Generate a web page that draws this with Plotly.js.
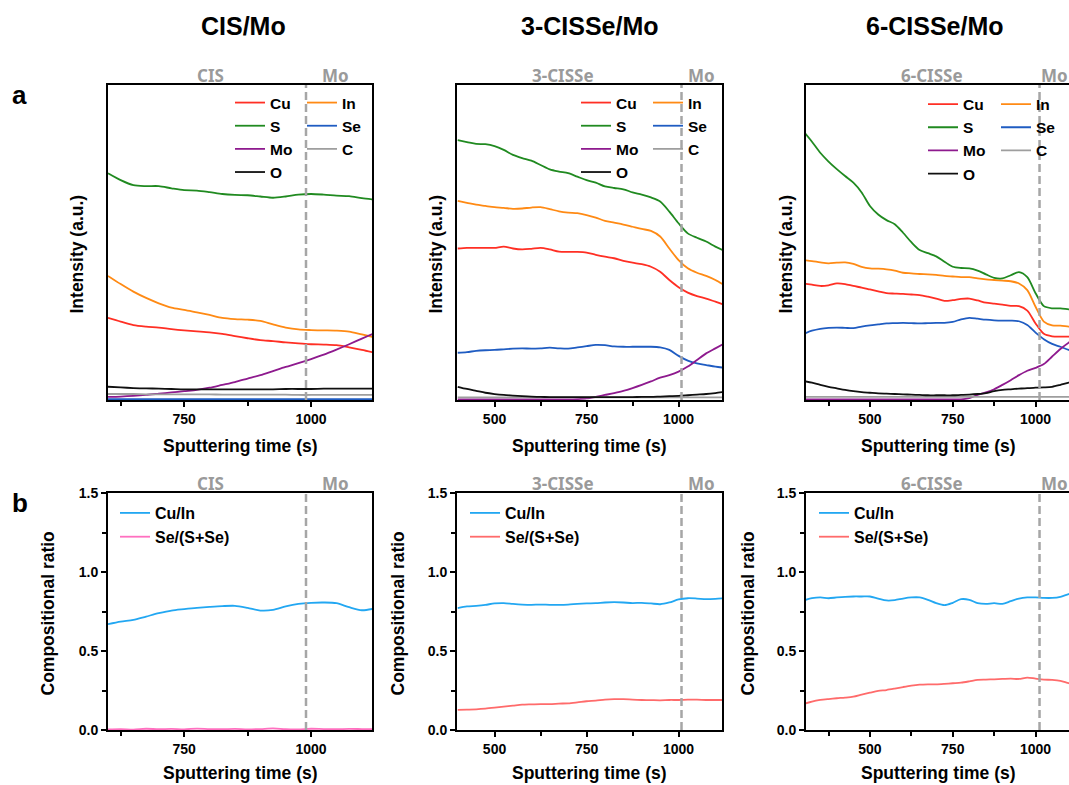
<!DOCTYPE html>
<html><head><meta charset="utf-8">
<script src="https://cdn.plot.ly/plotly-3.0.1.min.js"></script>
<style>html,body{margin:0;padding:0;overflow:hidden;background:#fff;} #chart{width:1075px;height:785px;}</style>
</head><body><div id="chart"></div>
<script>
// ---------------- data ----------------
const columnTitles = ['CIS/Mo', '3-CISSe/Mo', '6-CISSe/Mo'];
const absorberLabels = ['CIS', '3-CISSe', '6-CISSe'];
const substrateLabel = 'Mo';
const elements = ['Cu', 'In', 'S', 'Se', 'Mo', 'C', 'O'];
const ratioNames = ['Cu/In', 'Se/(S+Se)'];
const interfaceTimes = [990, 1008, 1012];

// CIS/Mo depth profile (intensity, a.u.)
const tA = [600,625,650,675,700,725,750,775,800,825,850,875,900,925,950,975,1000,1025,1050,1075,1100,1125];
const cuA = [26.1,24.9,23.8,23.3,23.0,22.5,22.1,21.8,21.5,21.0,20.3,19.6,19.0,18.7,18.3,18.0,17.7,17.6,17.4,16.7,15.9,15.0];
const inA = [39.4,36.8,34.4,32.4,30.7,29.3,28.6,27.8,27.0,26.1,25.7,25.5,25.1,24.0,23.0,22.4,22.2,22.1,22.0,21.7,20.8,19.9];
const sA  = [72.0,69.8,68.2,67.9,67.9,67.2,66.6,66.5,66.0,65.4,65.1,65.0,64.6,64.2,64.6,65.2,65.4,65.2,64.9,64.7,64.1,63.6];
const seA = [0.3,0.3,0.3,0.3,0.3,0.3,0.3,0.3,0.3,0.3,0.3,0.3,0.3,0.3,0.3,0.3,0.3,0.3,0.3,0.3,0.3,0.3];
const moA = [1.0,1.1,1.3,1.6,2.0,2.4,2.8,3.2,3.9,4.8,5.7,6.8,7.9,9.2,10.5,11.7,13.0,14.4,16.0,17.7,19.5,21.2];
const cA  = [1.9,1.9,1.9,1.8,1.8,1.8,1.8,1.8,1.8,1.7,1.7,1.7,1.7,1.7,1.7,1.6,1.6,1.6,1.6,1.6,1.6,1.6];
const oA  = [4.2,4.0,3.8,3.7,3.6,3.5,3.4,3.4,3.4,3.4,3.4,3.4,3.4,3.4,3.5,3.5,3.5,3.6,3.6,3.6,3.6,3.6];

// 3-CISSe/Mo depth profile
const tB = [400,425,450,475,500,525,550,575,600,625,650,675,700,725,750,775,800,825,850,875,900,925,950,975,1000,1025,1050,1075,1100,1125];
const cuB = [48.1,48.3,48.3,48.3,48.3,48.7,48.1,47.8,48.0,48.3,47.8,47.1,47.0,47.0,46.8,46.1,45.5,45.0,44.2,43.6,43.1,42.3,40.7,38.1,35.8,34.1,33.0,32.2,31.2,30.2];
const inB = [63.2,62.6,62.0,61.6,61.2,61.0,60.7,60.8,61.1,61.2,60.6,59.9,59.5,59.3,58.7,57.9,56.9,56.3,55.7,55.0,54.3,53.7,51.9,48.1,44.4,41.8,40.4,39.4,38.1,36.4];
const sB  = [82.5,81.9,81.3,81.2,80.6,79.4,77.8,76.8,76.0,74.6,73.2,72.5,72.0,70.9,69.8,69.0,67.8,67.3,66.9,65.9,65.2,64.3,63.0,59.8,56.1,52.9,51.5,50.3,48.7,47.3];
const seB = [15.0,15.2,15.6,15.8,15.9,16.1,16.3,16.4,16.3,16.4,16.6,16.4,16.3,16.7,17.1,17.5,17.4,17.0,16.9,16.9,16.9,16.9,16.7,15.9,14.0,12.5,11.6,11.1,10.6,10.2];
const moB = [0.2,0.2,0.2,0.2,0.2,0.2,0.2,0.2,0.2,0.2,0.2,0.2,0.2,0.3,0.5,1.0,1.6,2.2,2.9,3.8,4.8,5.9,7.1,7.9,9.0,10.6,12.7,14.8,16.4,18.0];
const cB  = [0.85,0.85,0.85,0.85,0.85,0.85,0.85,0.85,0.85,0.85,0.85,0.85,0.85,0.85,0.85,0.85,0.85,0.85,0.85,0.85,0.85,0.85,0.85,0.85,0.85,0.85,0.85,0.85,0.85,0.85];
const oB  = [4.2,3.5,2.9,2.3,1.9,1.6,1.4,1.2,1.05,1.0,0.9,0.9,0.9,0.9,0.9,0.9,0.9,0.9,0.9,0.9,1.0,1.0,1.1,1.2,1.3,1.5,1.7,1.9,2.2,2.6];

// 6-CISSe/Mo depth profile
const tC = [300,325,350,375,400,425,450,475,500,525,550,575,600,625,650,675,700,725,750,775,800,825,850,875,900,925,950,975,1000,1025,1050,1075,1100,1125];
const cuC = [37.0,36.6,36.2,36.4,37.0,36.8,36.2,35.7,35.1,34.5,33.9,33.8,33.7,33.5,33.3,32.8,32.2,31.5,31.7,32.1,32.2,31.6,30.9,30.6,30.3,29.9,29.8,28.4,24.3,21.0,20.2,20.1,20.1,20.0];
const inC = [44.4,44.1,43.7,43.4,43.6,43.7,43.2,42.3,41.8,41.7,41.5,41.1,40.4,40.2,40.0,39.9,39.7,39.4,39.2,39.0,39.0,38.6,38.3,38.1,37.9,37.7,37.0,34.9,29.6,24.9,23.7,23.6,23.3,23.1];
const sC  = [85.2,82.0,78.5,75.7,73.3,71.1,69.0,65.9,61.6,58.9,57.1,55.8,53.1,50.1,47.6,46.6,45.6,43.9,42.3,41.9,41.8,41.1,39.9,38.8,38.6,39.6,40.6,39.0,33.9,29.8,29.1,29.1,28.8,28.6];
const seC = [21.0,22.0,22.6,22.9,23.0,22.9,22.8,23.3,23.7,24.0,24.3,24.4,24.5,24.4,24.3,24.4,24.5,24.5,24.8,25.6,26.1,25.8,25.5,25.3,25.2,25.2,25.0,23.8,21.4,19.3,17.8,16.9,15.9,15.2];
const moC = [0.2,0.2,0.2,0.2,0.2,0.2,0.2,0.2,0.2,0.2,0.2,0.2,0.2,0.2,0.2,0.2,0.2,0.2,0.2,0.2,0.6,1.6,2.4,3.4,4.8,6.3,7.9,9.3,10.2,11.4,13.8,16.2,18.2,19.9];
const cC  = [1.0,1.0,1.0,1.0,1.0,1.0,1.0,1.0,1.0,1.0,1.0,1.0,1.0,1.0,1.0,1.0,1.0,1.0,1.0,1.0,1.0,1.0,1.0,1.0,1.0,1.0,1.0,1.0,1.0,1.0,1.0,1.0,1.0,1.0];
const oC  = [6.0,5.5,4.8,4.2,3.7,3.2,2.8,2.5,2.3,2.1,2.0,1.9,1.8,1.7,1.6,1.5,1.5,1.5,1.5,1.6,1.7,1.9,2.2,2.8,3.2,3.4,3.6,3.8,3.9,4.0,4.2,4.8,5.5,6.0];

// compositional ratios
const cuInA = [0.670,0.686,0.697,0.718,0.739,0.756,0.765,0.773,0.779,0.784,0.786,0.773,0.756,0.760,0.782,0.798,0.805,0.807,0.803,0.777,0.758,0.769];
const seRatioA = [0.004,0.006,0.003,0.008,0.005,0.007,0.004,0.009,0.006,0.005,0.007,0.004,0.006,0.010,0.005,0.004,0.008,0.006,0.005,0.007,0.006,0.005];
const cuInB = [0.771,0.782,0.786,0.792,0.801,0.803,0.798,0.794,0.792,0.794,0.792,0.792,0.794,0.798,0.801,0.803,0.807,0.809,0.807,0.803,0.805,0.801,0.796,0.807,0.826,0.834,0.832,0.828,0.830,0.834];
const seRatioB = [0.127,0.129,0.131,0.135,0.141,0.148,0.154,0.160,0.162,0.164,0.164,0.167,0.169,0.175,0.182,0.186,0.192,0.195,0.195,0.192,0.190,0.189,0.188,0.190,0.190,0.192,0.192,0.190,0.190,0.190];
const cuInC = [0.820,0.834,0.839,0.834,0.839,0.843,0.845,0.845,0.845,0.832,0.820,0.822,0.832,0.839,0.839,0.824,0.803,0.790,0.805,0.828,0.824,0.803,0.798,0.803,0.798,0.815,0.832,0.839,0.839,0.836,0.836,0.843,0.860,0.870];
const seRatioC = [0.165,0.180,0.190,0.196,0.201,0.205,0.211,0.224,0.236,0.247,0.253,0.262,0.272,0.281,0.287,0.289,0.289,0.292,0.296,0.300,0.308,0.317,0.319,0.321,0.323,0.325,0.323,0.332,0.325,0.319,0.317,0.311,0.296,0.285];

// ---------------- layout helpers ----------------
const W = 1075, H = 785;
const px = v => v / W;
const py = v => 1 - v / H;
const FONT = 'Liberation Sans, Arial, Helvetica, sans-serif';
const LABEL_FONT = 'Noto Sans, Open Sans, sans-serif';

const elementColors = ['#FF2F24', '#FF8A14', '#208A20', '#1F5CC2', '#8E1A8E', '#9E9E9E', '#101010'];
const ratioColors = [['#22A7F2', '#FF70C0'], ['#22A7F2', '#FF6B6B'], ['#22A7F2', '#FF6B6B']];

const panels = [
  {t: tA, series: [cuA, inA, sA, seA, moA, cA, oA], ratios: [cuInA, seRatioA], range: [600, 1120], xd: [108, 372], leg: [230, 302], legY: 86, rLeg: 115, lab: [801, 1048]},
  {t: tB, series: [cuB, inB, sB, seB, moB, cB, oB], ratios: [cuInB, seRatioB], range: [398, 1118], xd: [457, 722], leg: [576, 648], legY: 86, rLeg: 465, lab: [685, 1063]},
  {t: tC, series: [cuC, inC, sC, seC, moC, cC, oC], ratios: [cuInC, seRatioC], range: [307, 1107], xd: [806, 1071], leg: [923, 996], legY: 87.5, rLeg: 814, lab: [686, 1058]}
];

const topDom = [py(400), py(85)];
const botDom = [py(730), py(493)];

const tickFont = {family: FONT, size: 14, weight: 'bold', color: '#000'};
const legFont = {family: FONT, size: 15, weight: 'bold', color: '#000'};

function xAxis(dom, range, anchor) {
  return {
    domain: [px(dom[0]), px(dom[1])], range: range, anchor: anchor,
    showline: true, linewidth: 2, linecolor: '#000', mirror: true,
    showgrid: false, zeroline: false,
    ticks: 'outside', ticklen: 5, tickwidth: 2, tickcolor: '#000',
    tick0: 0, dtick: 250, tickfont: tickFont,
    minor: {dtick: 125, tick0: 0, ticks: 'outside', ticklen: 4, tickwidth: 2, tickcolor: '#000', showgrid: false},
    fixedrange: true
  };
}
function yAxisTop(anchor) {
  return {
    domain: topDom, range: [0, 100], anchor: anchor,
    showline: true, linewidth: 2, linecolor: '#000', mirror: true,
    showgrid: false, zeroline: false, ticks: '', showticklabels: false, fixedrange: true
  };
}
function yAxisBot(anchor) {
  return {
    domain: botDom, range: [0, 1.5], anchor: anchor,
    showline: true, linewidth: 2, linecolor: '#000', mirror: true,
    showgrid: false, zeroline: false,
    ticks: 'outside', ticklen: 5, tickwidth: 2, tickcolor: '#000',
    tick0: 0, dtick: 0.5, tickformat: '.1f', tickfont: tickFont,
    minor: {dtick: 0.25, tick0: 0, ticks: 'outside', ticklen: 4, tickwidth: 2, tickcolor: '#000', showgrid: false},
    fixedrange: true
  };
}

const traces = [];
const layout = {
  width: W, height: H,
  margin: {l: 0, r: 0, t: 0, b: 0, pad: 0},
  paper_bgcolor: '#fff', plot_bgcolor: '#fff',
  font: {family: FONT, color: '#000'},
  showlegend: true,
  shapes: [], annotations: []
};

function legendKey(n) { return n === 1 ? 'legend' : 'legend' + n; }
function legendLayout(x, y, size) {
  return {x: px(x), y: py(y), xanchor: 'left', yanchor: 'top', bgcolor: 'rgba(0,0,0,0)', borderwidth: 0,
          font: Object.assign({}, legFont, {size: size}), tracegroupgap: 0, itemclick: false, itemdoubleclick: false};
}

function ann(text, x, y, size, opts) {
  return Object.assign({text: text, x: px(x), y: py(y), xref: 'paper', yref: 'paper', showarrow: false,
    xanchor: 'center', yanchor: 'middle', font: {family: FONT, size: size, weight: 'bold', color: '#000'}}, opts || {});
}

panels.forEach((p, i) => {
  const topN = i + 1, botN = i + 4;
  const xt = 'x' + (topN === 1 ? '' : topN), yt = 'y' + (topN === 1 ? '' : topN);
  const xb = 'x' + botN, yb = 'y' + botN;
  layout['xaxis' + (topN === 1 ? '' : topN)] = xAxis(p.xd, p.range, yt);
  layout['yaxis' + (topN === 1 ? '' : topN)] = yAxisTop(xt);
  layout['xaxis' + botN] = xAxis(p.xd, p.range, yb);
  layout['yaxis' + botN] = yAxisBot(xb);

  // element depth profiles
  const legCol0 = legendKey(i * 2 + 1), legCol1 = legendKey(i * 2 + 2);
  layout[legCol0] = legendLayout(p.leg[0], p.legY, 15.5);
  layout[legCol1] = legendLayout(p.leg[1], p.legY, 15.5);
  elements.forEach((el, k) => {
    traces.push({
      x: p.t, y: p.series[k], type: 'scatter', mode: 'lines', name: el,
      line: {color: elementColors[k], width: 1.8, shape: 'spline', smoothing: 0.8},
      xaxis: xt, yaxis: yt, legend: (k % 2 === 0) ? legCol0 : legCol1, hoverinfo: 'skip'
    });
  });

  // compositional ratios
  const legR = legendKey(7 + i);
  layout[legR] = legendLayout(p.rLeg, 496, 16);
  ratioNames.forEach((nm, k) => {
    traces.push({
      x: p.t, y: p.ratios[k], type: 'scatter', mode: 'lines', name: nm,
      line: {color: ratioColors[i][k], width: 1.8, shape: 'spline', smoothing: 0.8},
      xaxis: xb, yaxis: yb, legend: legR, hoverinfo: 'skip'
    });
  });

  // interface dashed lines
  [[xt, yt], [xb, yb]].forEach(([xa, ya]) => {
    layout.shapes.push({type: 'line', xref: xa, yref: ya + ' domain', x0: interfaceTimes[i], x1: interfaceTimes[i], y0: 0, y1: 1,
      line: {color: '#A6A6A6', width: 2.5, dash: '8px,4px'}, layer: 'above'});
  });

  // region labels above each plot
  const labFont = {family: LABEL_FONT, size: 17, weight: 'bold', color: '#9A9A9A'};
  [[xt, 76], [xb, 483.5]].forEach(([xa, yy]) => {
    layout.annotations.push({text: absorberLabels[i], xref: xa, yref: 'paper', x: p.lab[0], y: py(yy), showarrow: false,
      xanchor: 'center', yanchor: 'middle', font: labFont});
    layout.annotations.push({text: substrateLabel, xref: xa, yref: 'paper', x: p.lab[1], y: py(yy), showarrow: false,
      xanchor: 'center', yanchor: 'middle', font: labFont});
  });

  const cx = (p.xd[0] + p.xd[1]) / 2;
  // column title
  layout.annotations.push(ann(columnTitles[i], [243, 590, 935][i], 26.5, 25));
  // axis titles
  layout.annotations.push(ann('Sputtering time (s)', cx, 445.5, 17.5));
  layout.annotations.push(ann('Sputtering time (s)', cx, 773, 17.5));
  layout.annotations.push(ann('Intensity (a.u.)', [76.5, 435.5, 785.5][i], 254, 17.5, {textangle: -90}));
  layout.annotations.push(ann('Compositional ratio', [47.5, 397.5, 747.5][i], 614, 17.5, {textangle: -90}));
});

layout.annotations.push(ann('a', 19, 95, 26));
layout.annotations.push(ann('b', 20, 503, 26));

Plotly.newPlot('chart', traces, layout, {staticPlot: true, displayModeBar: false});
</script></body></html>
